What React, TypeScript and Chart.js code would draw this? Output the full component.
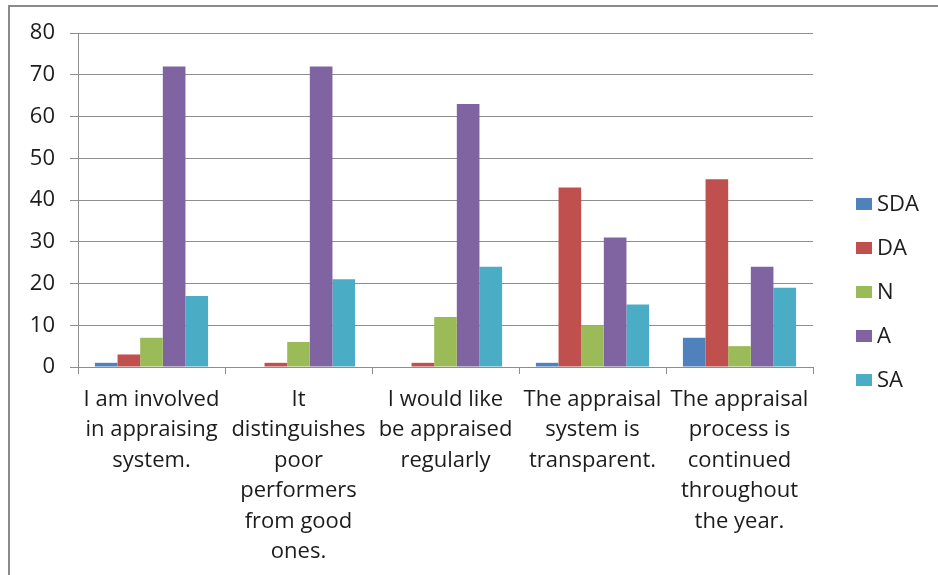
import { useEffect, useRef } from "react";
import { Chart, registerables } from "chart.js";

Chart.register(...registerables);

// Survey statements (x-axis categories), wrapped line by line
const categories: string[][] = [
  ["I am involved", "in appraising", "system."],
  ["It", "distinguishes", "poor", "performers", "from good", "ones."],
  ["I would like", "be appraised", "regularly"],
  ["The appraisal", "system is", "transparent."],
  ["The appraisal", "process is", "continued", "throughout", "the year."],
];

// Response counts per statement
const seriesNames = ["SDA", "DA", "N", "A", "SA"];
const sdaValues = [1, 0, 0, 1, 7];
const daValues = [3, 1, 1, 43, 45];
const nValues = [7, 6, 12, 10, 5];
const aValues = [72, 72, 63, 31, 24];
const saValues = [17, 21, 24, 15, 19];
const seriesColors = ["#4F81BD", "#C0504D", "#9BBB59", "#8064A2", "#4BACC6"];

// Value axis
const yMin = 0;
const yMax = 80;
const yStep = 10;

const FONT_FAMILY = '"Open Sans", "DejaVu Sans", sans-serif';
const FONT_SIZE = 22;
const TEXT_COLOR = "#1c1c1c";
const GRID_COLOR = "#8e8e8e";

// Legend drawn in a column to the right of the plot area
const sideLegend = {
  id: "sideLegend",
  afterDraw(chart: Chart) {
    const { ctx, chartArea } = chart;
    ctx.save();
    ctx.font = `${FONT_SIZE}px ${FONT_FAMILY}`;
    ctx.textBaseline = "middle";
    ctx.textAlign = "left";
    chart.data.datasets.forEach((ds, i) => {
      const x = chartArea.right + 43;
      const y = chartArea.top + 171 + i * 44;
      ctx.fillStyle = ds.backgroundColor as string;
      ctx.fillRect(x, y - 6, 16, 12);
      ctx.fillStyle = TEXT_COLOR;
      ctx.fillText(ds.label as string, x + 21, y + 1);
    });
    ctx.restore();
  },
};

export default function App() {
  const canvasRef = useRef<HTMLCanvasElement | null>(null);

  useEffect(() => {
    const canvas = canvasRef.current;
    if (!canvas) return;
    const values = [sdaValues, daValues, nValues, aValues, saValues];
    const tickFont = { family: FONT_FAMILY, size: FONT_SIZE, lineHeight: 30.5 / FONT_SIZE };

    const chart = new Chart(canvas, {
      type: "bar",
      data: {
        labels: categories,
        datasets: seriesNames.map((name, i) => ({
          label: name,
          data: values[i],
          backgroundColor: seriesColors[i],
          borderWidth: 0,
          barPercentage: 1,
          categoryPercentage: 0.77,
        })),
      },
      plugins: [sideLegend],
      options: {
        responsive: false,
        animation: false,
        events: [],
        layout: { padding: { left: 0, top: 33, right: 125, bottom: 0 } },
        plugins: {
          legend: { display: false },
          tooltip: { enabled: false },
          title: { display: false },
        },
        scales: {
          x: {
            offset: true,
            grid: {
              offset: true,
              drawOnChartArea: false,
              drawTicks: true,
              tickLength: 7,
              color: GRID_COLOR,
            },
            border: { color: GRID_COLOR, width: 1 },
            ticks: {
              autoSkip: false,
              maxRotation: 0,
              minRotation: 0,
              padding: 10,
              font: tickFont,
              color: TEXT_COLOR,
            },
            afterFit: (scale: any) => {
              scale.height = 208;
            },
          },
          y: {
            min: yMin,
            max: yMax,
            ticks: {
              stepSize: yStep,
              padding: 15,
              font: { family: FONT_FAMILY, size: FONT_SIZE },
              color: TEXT_COLOR,
            },
            grid: { color: GRID_COLOR, tickLength: 8, lineWidth: 1 },
            border: { color: GRID_COLOR, width: 1 },
            afterFit: (scale: any) => {
              scale.width = 78;
            },
          },
        },
      },
    });

    return () => chart.destroy();
  }, []);

  return (
    <div
      style={{
        position: "absolute",
        left: 0,
        top: 0,
        width: 938,
        height: 575,
        overflow: "hidden",
        background: "#ffffff",
      }}
    >
      <canvas
        ref={canvasRef}
        width={938}
        height={575}
        style={{ position: "absolute", left: 0, top: 0, width: 938, height: 575 }}
      />
      <div
        style={{
          position: "absolute",
          left: 8,
          top: 5,
          width: 1000,
          height: 1000,
          border: "2px solid #8a8a8a",
          pointerEvents: "none",
        }}
      />
    </div>
  );
}
